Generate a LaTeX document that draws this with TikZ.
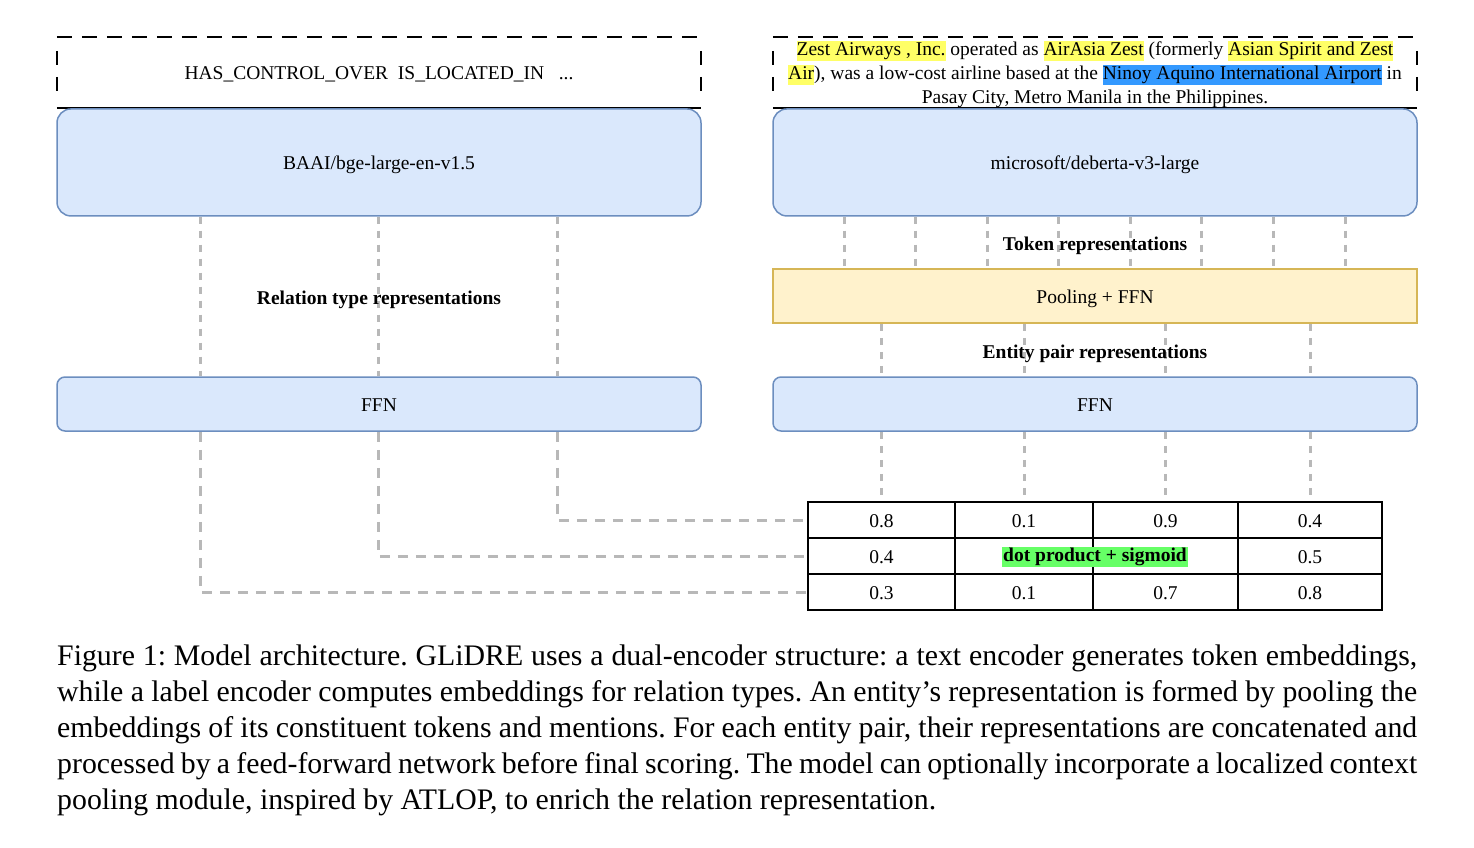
\documentclass[tikz,border=0pt]{standalone}
\usepackage{fontspec}
\setmainfont{Liberation Serif}
\usepackage{xcolor}
\usetikzlibrary{positioning}
\definecolor{encblue}{HTML}{DAE8FC}
\definecolor{encedge}{HTML}{6C8EBF}
\definecolor{poolyellow}{HTML}{FFF2CC}
\definecolor{pooledge}{HTML}{D6B656}
\definecolor{linkgray}{HTML}{B8B8B8}
\definecolor{hlyellow}{HTML}{FFFF66}
\definecolor{hlblue}{HTML}{3399FF}
\definecolor{hlgreen}{HTML}{66FF66}
\newcommand{\hlbox}[2]{{\setlength{\fboxsep}{0pt}\colorbox{#1}{\rule[-5pt]{0pt}{20pt}#2}}}

\tikzset{
    diag/.style={font=\fontsize{19.5}{24}\selectfont},
    lowtext/.style={text height=19pt, text depth=4pt},
    frame/.style={minimum width=644pt, minimum height=71pt, inner sep=0pt},
    outline/.style={line width=2pt, dash pattern=on 15pt off 10pt},
    sideline/.style={line width=2pt, dash pattern=on 0pt off 14pt on 14pt off 12pt on 14pt off 30pt},
    encbox/.style={diag, lowtext, draw=encedge, fill=encblue, line width=1.5pt, rounded corners=14pt,
        minimum width=644pt, minimum height=107pt, inner sep=0pt},
    ffnbox/.style={encbox, rounded corners=8pt, minimum height=54pt},
    poolbox/.style={diag, lowtext, draw=pooledge, fill=poolyellow, line width=1.5pt,
        minimum width=644pt, minimum height=54pt, inner sep=0pt},
    replabel/.style={font=\fontsize{19.5}{24}\selectfont\bfseries},
    link/.style={draw=linkgray, line width=3pt, dash pattern=on 7pt off 7pt},
    longlink/.style={link, dash pattern=on 10pt off 8pt},
    cell/.style={diag, draw=black, line width=1.5pt, minimum height=36pt, inner sep=0pt,
        text height=15.5pt, text depth=0pt},
}

\begin{document}
\begin{tikzpicture}[x=1pt, y=-1pt]
    \useasboundingbox (0,0) rectangle (1474,848);

    % inputs
    \node[frame] (relin) at (379,72.5) {};
    \node[frame] (txtin) at (1095,72.5) {};
    \foreach \n in {relin,txtin} {
        \draw[outline] (\n.north west) -- (\n.north east);
        \draw[sideline] (\n.north west) -- (\n.south west);
        \draw[sideline] (\n.north east) -- (\n.south east);
        \draw[line width=2pt] (\n.south west) -- (\n.south east);
    }
    \node[diag] (reltypes) at (379,74.5) {HAS\_CONTROL\_OVER\ \ IS\_LOCATED\_IN\ \ \ ...};
    \node[diag, align=center] (sentence) at (1095,74.5) {%
        \hlbox{hlyellow}{Zest Airways , Inc.} operated as \hlbox{hlyellow}{AirAsia Zest} (formerly \hlbox{hlyellow}{Asian Spirit and Zest}\\
        \hlbox{hlyellow}{Air}), was a low-cost airline based at the \hlbox{hlblue}{Ninoy Aquino International Airport} in\\
        Pasay City, Metro Manila in the Philippines.};

    % encoders
    \node[encbox, below=0pt of relin] (relenc) {BAAI/bge-large-en-v1.5};
    \node[encbox, below=0pt of txtin] (txtenc) {microsoft/deberta-v3-large};
    \node[poolbox] (pool) at (1095,296) {Pooling + FFN};
    \node[ffnbox] (relffn) at (379,404) {FFN};
    \node[ffnbox] (entffn) at (1095,404) {FFN};

    % score table
    \foreach \r/\yc/\va/\vb/\vc/\vd in {1/520/0.8/0.1/0.9/0.4, 2/556/0.4/{}/{}/0.5, 3/592/0.3/0.1/0.7/0.8} {
        \node[cell, minimum width=147pt] (c-\r-1) at (881.5,\yc) {\va};
        \node[cell, minimum width=138pt] (c-\r-2) at (1024,\yc) {\vb};
        \node[cell, minimum width=145pt] (c-\r-3) at (1165.5,\yc) {\vc};
        \node[cell, minimum width=144pt] (c-\r-4) at (1310,\yc) {\vd};
    }
    \node[replabel, fill=hlgreen, inner sep=1.5pt] (score) at (1095,557) {dot product + sigmoid};

    % relation type links
    \foreach \x [count=\i] in {200,378,557}
        \coordinate (rx\i) at (\x,0);
    \foreach \i in {1,2,3}
        \draw[link] (relenc.south -| rx\i) -- (relffn.north -| rx\i);
    \draw[longlink] (relffn.south -| rx3) |- (c-1-1.west);
    \draw[longlink] (relffn.south -| rx2) |- (c-2-1.west);
    \draw[longlink] (relffn.south -| rx1) |- (c-3-1.west);

    % token and entity pair links
    \foreach \k in {0,...,7} {
        \coordinate (tx\k) at ({844+71.57*\k},0);
        \draw[link] (txtenc.south -| tx\k) -- (pool.north -| tx\k);
    }
    \foreach \k in {1,...,4} {
        \draw[link] (pool.south -| c-1-\k) -- (entffn.north -| c-1-\k);
        \draw[link] (entffn.south -| c-1-\k) -- (c-1-\k.north);
    }

    \node[replabel] (rellab) at (379,300) {Relation type representations};
    \node[replabel] (toklab) at (1095,246) {Token representations};
    \node[replabel] (entlab) at (1095,354) {Entity pair representations};

    % caption
    \node[anchor=north west, text width=1360pt, align=justify, inner sep=0pt,
        font=\fontsize{29.8}{36}\selectfont\frenchspacing] (caption) at (57,645) {%
        Figure 1: Model architecture. GLiDRE uses a dual-encoder structure: a text encoder generates token embeddings,\linebreak
        while a label encoder computes embeddings for relation types. An entity’s representation is formed by pooling the\linebreak
        embeddings of its constituent tokens and mentions. For each entity pair, their representations are concatenated and\linebreak
        processed by a feed-forward network before final scoring. The model can optionally incorporate a localized context\linebreak
        pooling module, inspired by ATLOP, to enrich the relation representation.};
\end{tikzpicture}
\end{document}
